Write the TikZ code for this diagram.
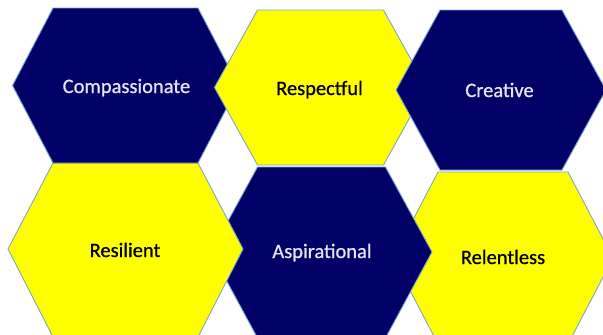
\documentclass[tikz,border=0pt]{standalone}
\usepackage{fontspec}
\setmainfont{Carlito}
\newfontfamily\lblfont[FakeBold=0.8]{Carlito}
\definecolor{navy}{RGB}{0,0,102}
\definecolor{hexyellow}{RGB}{255,255,0}
\definecolor{hexline}{RGB}{125,165,210}
\definecolor{lighttext}{RGB}{230,230,242}
\begin{document}
\begin{tikzpicture}[x=1pt,y=-1pt,
  hexnavy/.style={fill=navy,draw=hexline,line width=0.9pt,line join=miter},
  hexyel/.style={fill=hexyellow,draw=hexline,line width=0.9pt,line join=miter},
  lbl/.style={anchor=base,inner sep=0pt,font=\lblfont\fontsize{20.5}{24}\selectfont},
  lblnavy/.style={lbl,text=lighttext},
  lblyel/.style={lbl,text=black}]
\useasboundingbox (0,0) rectangle (603,335);
\clip (0,0) rectangle (603,335);
% bottom row
\draw[hexyel] (393,258) -- (438,172) -- (568,172) -- (613,258) -- (568,344) -- (438,344) -- cycle;
\draw[hexnavy] (211,252) -- (257.5,167) -- (385.5,167) -- (432,252) -- (385.5,338) -- (257.5,338) -- cycle;
\draw[hexyel] (8,249) -- (53,163) -- (198,163) -- (243,249) -- (198,337) -- (53,337) -- cycle;
% top row
\draw[hexnavy] (12.5,85.5) -- (53,8) -- (198,8) -- (238.5,85.5) -- (198,163) -- (53,163) -- cycle;
\draw[hexyel] (214.5,87.5) -- (257.5,10) -- (383.5,10) -- (426.5,87.5) -- (383.5,165) -- (257.5,165) -- cycle;
\draw[hexnavy] (396,90) -- (440,10) -- (562,10) -- (606,90) -- (562,170) -- (440,170) -- cycle;
% labels
\node[lblnavy] (compassionate) at (126.5,93) {Compassionate};
\node[lblyel] (respectful) at (319.5,95) {Respectful};
\node[lblnavy] (creative) at (499.5,97) {Creative};
\node[lblyel] (resilient) at (125,257) {Resilient};
\node[lblnavy] (aspirational) at (322,258) {Aspirational};
\node[lblyel] (relentless) at (503,264) {Relentless};
\end{tikzpicture}
\end{document}
